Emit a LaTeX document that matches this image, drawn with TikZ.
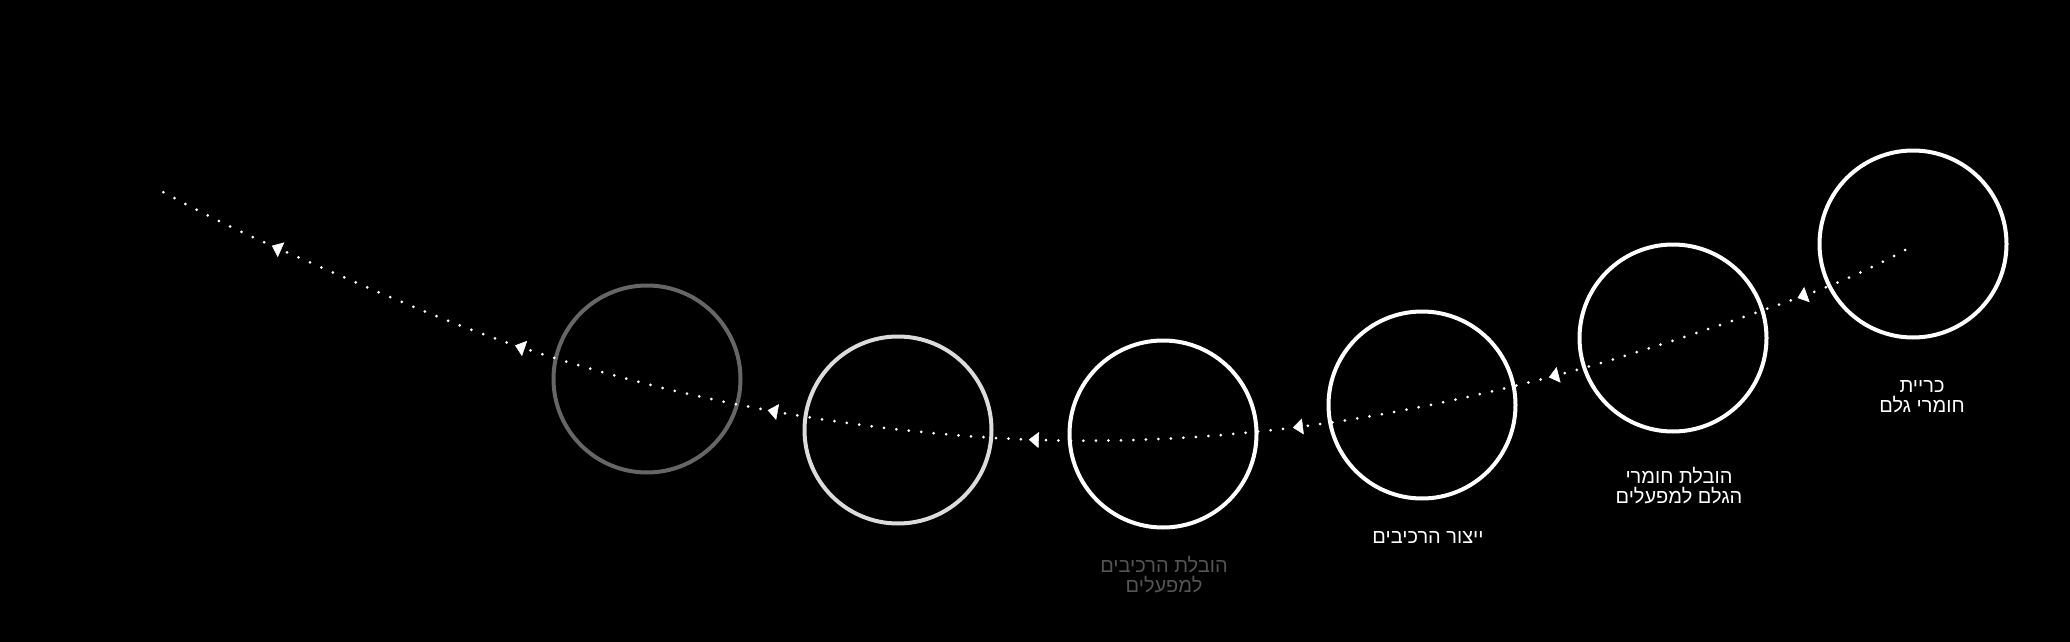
\documentclass[tikz,border=0pt]{standalone}
\usepackage{fontspec}
\newfontfamily\heb[Script=Hebrew]{Liberation Sans}
\TeXXeTstate=1
\usetikzlibrary{arrows.meta,decorations.markings}
\definecolor{ringwhite}{HTML}{FFFFFF}
\definecolor{ringlight}{HTML}{DCDCDC}
\definecolor{ringgray}{HTML}{666666}
\definecolor{labelgray}{HTML}{555555}
\tikzset{
  ring/.style={circle,draw=#1,line width=4pt,minimum size=187pt,inner sep=0pt},
  ring/.default=ringwhite,
  steplabel/.style={text=#1,font=\heb\fontsize{20}{20}\selectfont,align=center,inner sep=0pt},
  steplabel/.default=white,
  flowtip/.style={white,line width=0.5pt,solid},
  flow/.style={white,line width=3pt,line cap=round,dash pattern=on 0pt off 12.5pt,
    postaction={decorate},
    decoration={markings,
      mark=at position 0.065 with {\arrow[flowtip]{Triangle[length=10pt,width=16pt]}},
      mark=at position 0.209 with {\arrow[flowtip]{Triangle[length=10pt,width=16pt]}},
      mark=at position 0.353 with {\arrow[flowtip]{Triangle[length=10pt,width=16pt]}},
      mark=at position 0.499 with {\arrow[flowtip]{Triangle[length=10pt,width=16pt]}},
      mark=at position 0.644 with {\arrow[flowtip]{Triangle[length=10pt,width=16pt]}},
      mark=at position 0.788 with {\arrow[flowtip]{Triangle[length=10pt,width=16pt]}},
      mark=at position 0.933 with {\arrow[flowtip]{Triangle[length=10pt,width=16pt]}}}}
}
\begin{document}
\begin{tikzpicture}[x=1pt,y=-1pt]
\fill[black] (0,0) rectangle (2070,642);
\useasboundingbox (0,0) rectangle (2070,642);
% circles
\node[ring] (c1) at (1913,244) {};
\node[ring] (c2) at (1673,338) {};
\node[ring] (c3) at (1422,405) {};
\node[ring] (c4) at (1163,434) {};
\node[ring=ringlight] (c5) at (898,430) {};
\node[ring=ringgray] (c6) at (647,379) {};
% labels
\node[steplabel] (l1) at (1922,397) {\beginR כריית\endR\\\beginR חומרי גלם\endR};
\node[steplabel] (l2) at (1679,486) {\beginR הובלת חומרי\endR\\\beginR הגלם למפעלים\endR};
\node[steplabel] (l3) at (1428,538) {\beginR ייצור הרכיבים\endR};
\node[steplabel=labelgray] (l4) at (1164,575) {\beginR הובלת הרכיבים\endR\\\beginR למפעלים\endR};
% flow path
\coordinate (src) at (1905,250);
\coordinate (p1) at (1803,296);
\coordinate (p2) at (1554,376);
\coordinate (p3) at (1298,427);
\coordinate (p4) at (1040,440);
\coordinate (p5) at (772,411);
\coordinate (p6) at (520,347);
\coordinate (p7) at (277,248);
\coordinate (dst) at (163,192);
\draw[flow] plot[smooth,tension=0.6] coordinates {(src) (p1) (p2) (p3) (p4) (p5) (p6) (p7) (dst)};
\end{tikzpicture}
\end{document}
